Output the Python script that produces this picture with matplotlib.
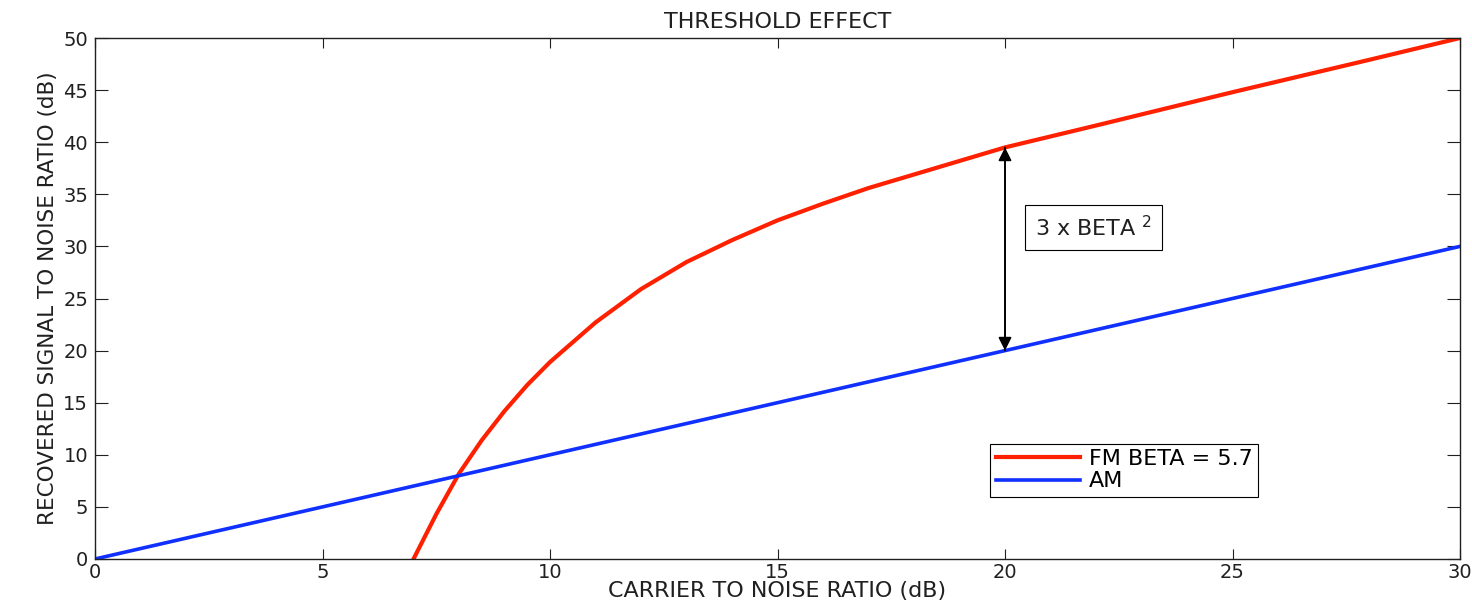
import matplotlib.pyplot as plt

plt.rcParams['font.family'] = ['DejaVu Sans']

# carrier to noise ratio (dB)
cnr_fm = [7.0, 7.5, 8.0, 8.5, 9.0, 9.5, 10, 11, 12, 13, 14, 15, 16, 17, 18, 19, 20, 22, 25, 28, 30]
snr_fm = [0.0, 4.3, 8.2, 11.4, 14.2, 16.7, 18.9, 22.7, 25.9, 28.5, 30.6, 32.5, 34.1, 35.6, 36.9, 38.2, 39.5, 41.6, 44.8, 47.9, 50.0]

cnr_am = [0, 30]
snr_am = [0, 30]

txt = '#202020'

fig = plt.figure(figsize=(14.72, 6.06), dpi=100)
ax = fig.add_axes([95/1472, 1 - 559/606, (1460 - 95)/1472, (559 - 38)/606])

ax.plot(cnr_fm, snr_fm, color='#ff2000', linewidth=3.0, label='FM BETA = 5.7')
ax.plot(cnr_am, snr_am, color='#1030ff', linewidth=2.6, label='AM')

ax.set_xlim(0, 30)
ax.set_ylim(0, 50)
ax.set_xticks(range(0, 31, 5))
ax.set_yticks(range(0, 51, 5))
ax.tick_params(direction='in', top=True, right=True, labelsize=14, width=0.8, colors=txt)
ax.tick_params(axis='x', length=7.5, pad=3)
ax.tick_params(axis='y', length=9.5, pad=5)
for s in ax.spines.values():
    s.set_linewidth(1.0)
    s.set_color(txt)

ax.set_title('THRESHOLD EFFECT', fontsize=16, pad=7, color=txt)
ax.set_xlabel('CARRIER TO NOISE RATIO (dB)', fontsize=16, labelpad=-1, color=txt)
ax.set_ylabel('RECOVERED SIGNAL TO NOISE RATIO (dB)', fontsize=15.5, labelpad=4, color=txt)

ax.annotate('', xy=(20, 39.5), xytext=(20, 20),
            arrowprops=dict(arrowstyle='-|>', color='black', lw=1.2, mutation_scale=20,
                            shrinkA=0, shrinkB=0))
ax.annotate('', xy=(20, 20), xytext=(20, 39.5),
            arrowprops=dict(arrowstyle='-|>', color='black', lw=1.2, mutation_scale=20,
                            shrinkA=0, shrinkB=0))
ax.text(20.65, 31.8, '3 x BETA $^{2}$', fontsize=16, va='center', ha='left', color=txt,
        bbox=dict(boxstyle='square,pad=0.45', facecolor='white', edgecolor='black', linewidth=0.8))

leg = ax.legend(loc='lower left', bbox_to_anchor=((990 - 95)/1365, (559 - 497)/521),
                fontsize=16, fancybox=False, framealpha=1, edgecolor='black',
                handlelength=3.8, borderpad=0.25, labelspacing=0.1, handletextpad=0.4,
                borderaxespad=0)
leg.get_frame().set_linewidth(0.8)

fig.savefig('out.png', dpi=100)
